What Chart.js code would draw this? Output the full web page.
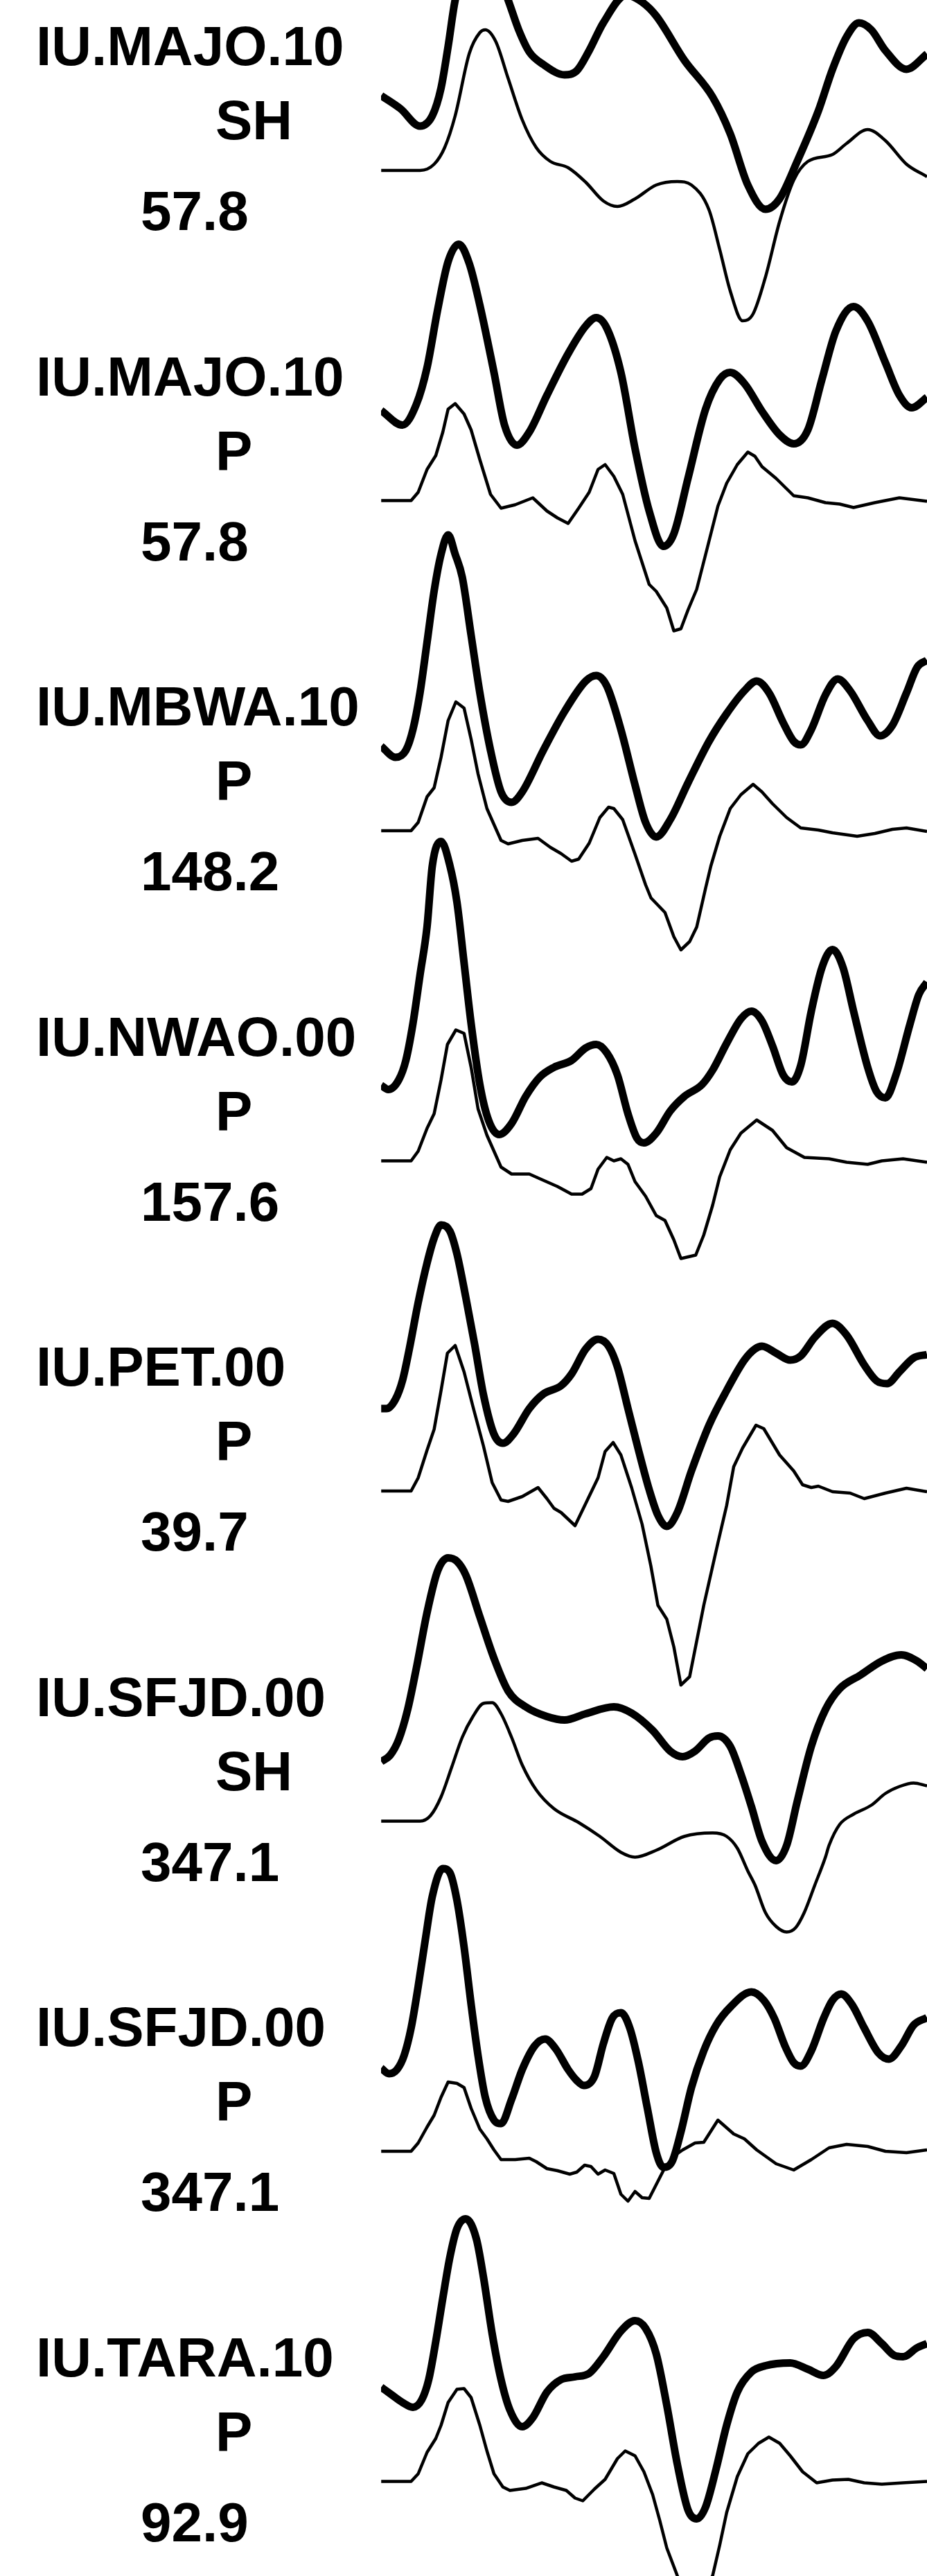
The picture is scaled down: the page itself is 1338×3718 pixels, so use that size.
<!DOCTYPE html>
<html>
<head>
<meta charset="utf-8">
<script src="https://cdn.jsdelivr.net/npm/chart.js@4.4.1/dist/chart.umd.min.js"></script>
<style>
  html, body { margin: 0; padding: 0; background: #fff; }
  #page { position: relative; width: 1338px; height: 3718px; overflow: hidden; background: #fff; }
  #traces { position: absolute; left: 0; top: 0; }
  .lbl { position: absolute; font: bold 80px "Liberation Sans", Arial, sans-serif; line-height: 80px; white-space: nowrap; color: #000; }
</style>
</head>
<body>
<div id="page"><canvas id="traces" width="1338" height="3718"></canvas></div>
<script>
// station / phase / epicentral distance (deg) for each row
const stations = ['IU.MAJO.10', 'IU.MAJO.10', 'IU.MBWA.10', 'IU.NWAO.00', 'IU.PET.00', 'IU.SFJD.00', 'IU.SFJD.00', 'IU.TARA.10'];
const phases = ['SH', 'P', 'P', 'P', 'P', 'SH', 'P', 'P'];
const distances = ['57.8', '57.8', '148.2', '157.6', '39.7', '347.1', '347.1', '92.9'];

// [time (s), amplitude] -- thick = observed, thin = synthetic
const majoShObs = [[0.01,-0.12],[1.41,-0.31],[2.81,-0.56],[3.7,-0.41],[4.33,-0.01],[4.84,0.59],[5.35,1.26],[7.1,2.3],[9.17,1.26],[9.93,0.83],[10.7,0.51],[11.71,0.33],[13.24,0.18],[14.13,0.24],[15.02,0.53],[16.04,0.93],[17.69,1.33],[18.84,1.23],[19.86,1.03],[21.89,0.39],[23.93,-0.14],[25.2,-0.67],[26.47,-1.41],[27.74,-1.76],[28.76,-1.61],[30.03,-1.07],[31.56,-0.34],[32.58,0.26],[33.6,0.73],[34.49,0.93],[35.38,0.83],[36.4,0.53],[37.92,0.26],[39.4,0.48]];
const majoShSyn = [[0.01,0],[2.81,0],[3.83,0.09],[4.59,0.33],[5.35,0.79],[6.37,1.69],[7.13,1.99],[7.52,2.03],[8.28,1.86],[9.17,1.33],[10.19,0.73],[11.2,0.33],[12.22,0.13],[13.5,0.04],[14.77,-0.17],[16.04,-0.44],[17.06,-0.52],[18.33,-0.41],[19.86,-0.21],[21.38,-0.16],[22.4,-0.21],[23.67,-0.57],[24.44,-1.14],[25.2,-1.74],[26.09,-2.17],[26.85,-2.07],[27.74,-1.54],[28.76,-0.74],[29.78,-0.14],[30.8,0.13],[32.58,0.23],[33.6,0.39],[35.12,0.59],[36.4,0.43],[37.92,0.09],[39.4,-0.09]];

const majoPObs = [[0.01,0.1],[1.54,-0.11],[2.55,0.19],[3.32,0.72],[4.08,1.55],[4.84,2.25],[5.61,2.5],[6.37,2.22],[7.13,1.62],[8.15,0.65],[8.91,-0.11],[9.81,-0.4],[10.7,-0.21],[11.97,0.32],[13.5,0.92],[14.77,1.32],[15.53,1.44],[16.29,1.29],[17.31,0.65],[18.33,-0.45],[19.35,-1.35],[20.37,-1.86],[21.13,-1.68],[22.15,-0.88],[23.42,0.12],[24.44,0.55],[25.2,0.65],[26.22,0.49],[27.49,0.09],[28.76,-0.25],[29.78,-0.38],[30.8,-0.18],[31.82,0.55],[32.83,1.25],[34.1,1.6],[35.12,1.39],[36.4,0.79],[37.41,0.32],[38.3,0.14],[39.4,0.29]];
const majoPSyn = [[0.01,0],[2.17,0],[2.68,0.12],[3.32,0.45],[3.95,0.65],[4.46,0.99],[4.84,1.32],[5.35,1.4],[5.99,1.25],[6.5,1.02],[7.13,0.59],[7.9,0.09],[8.66,-0.11],[9.68,-0.06],[10.95,0.04],[11.97,-0.15],[12.73,-0.25],[13.5,-0.33],[14.26,-0.11],[15.02,0.12],[15.66,0.45],[16.17,0.52],[16.8,0.35],[17.44,0.09],[18.33,-0.58],[19.35,-1.21],[19.86,-1.31],[20.62,-1.55],[21.13,-1.88],[21.64,-1.85],[22.15,-1.58],[22.78,-1.28],[23.42,-0.78],[24.31,-0.08],[24.94,0.25],[25.71,0.52],[26.47,0.7],[26.98,0.64],[27.49,0.49],[28.51,0.32],[29.78,0.07],[30.8,0.04],[32.07,-0.03],[33.09,-0.05],[34.1,-0.1],[35.63,-0.03],[37.41,0.04],[39.4,-0.01]];

const mbwaPObs = [[0.01,0.02],[1.03,-0.14],[1.79,-0.04],[2.3,0.26],[2.81,0.79],[3.32,1.52],[3.83,2.26],[4.33,2.79],[4.84,3.07],[5.35,2.79],[5.86,2.46],[6.5,1.62],[7.13,0.79],[7.9,-0.04],[8.66,-0.64],[9.42,-0.79],[10.19,-0.64],[11.71,-0.04],[13.24,0.52],[14.77,0.96],[15.53,1.04],[16.29,0.89],[17.31,0.26],[18.33,-0.54],[19.09,-1.08],[19.86,-1.29],[20.87,-1.04],[22.15,-0.51],[23.67,0.09],[24.94,0.49],[26.22,0.82],[27.11,0.96],[28.0,0.79],[29.02,0.36],[29.78,0.09],[30.29,0.04],[31.05,0.26],[32.07,0.76],[32.96,0.99],[33.85,0.82],[35.12,0.39],[36.01,0.17],[36.9,0.32],[37.92,0.79],[38.69,1.16],[39.4,1.26]];
const mbwaPSyn = [[0.01,0],[2.17,0],[2.68,0.12],[3.32,0.49],[3.83,0.62],[4.33,1.06],[4.84,1.59],[5.4,1.86],[5.99,1.77],[6.5,1.32],[7.0,0.82],[7.64,0.32],[8.66,-0.14],[9.17,-0.19],[10.19,-0.14],[11.33,-0.11],[12.22,-0.24],[12.99,-0.33],[13.75,-0.44],[14.26,-0.41],[15.02,-0.18],[15.79,0.19],[16.42,0.34],[16.8,0.32],[17.44,0.16],[18.33,-0.34],[19.09,-0.78],[19.48,-0.97],[20.49,-1.18],[21.13,-1.53],[21.64,-1.72],[22.27,-1.6],[22.78,-1.39],[23.42,-0.83],[23.8,-0.51],[24.44,-0.08],[25.2,0.32],[25.97,0.52],[26.85,0.67],[27.49,0.56],[28.25,0.39],[29.27,0.19],[30.29,0.04],[31.56,0.01],[32.58,-0.03],[34.36,-0.08],[35.63,-0.04],[36.9,0.02],[37.92,0.04],[39.4,-0.01]];

const nwaoPObs = [[0.01,-0.11],[0.52,-0.17],[1.28,-0.03],[1.79,0.25],[2.3,0.78],[2.81,1.48],[3.32,2.18],[3.7,3.06],[4.33,3.41],[4.97,3.06],[5.48,2.53],[5.99,1.66],[6.5,0.78],[7.13,-0.1],[7.77,-0.62],[8.53,-0.82],[9.42,-0.66],[10.44,-0.27],[11.46,0.01],[12.48,0.15],[13.75,0.25],[14.77,0.43],[15.53,0.48],[16.29,0.36],[17.06,0.04],[17.82,-0.52],[18.46,-0.87],[18.97,-0.94],[19.86,-0.8],[20.87,-0.48],[21.89,-0.27],[23.16,-0.1],[23.93,0.11],[24.95,0.5],[25.97,0.85],[26.73,0.96],[27.49,0.82],[28.25,0.46],[29.02,0.04],[29.65,-0.06],[30.29,0.18],[31.05,0.96],[31.82,1.59],[32.58,1.85],[33.34,1.59],[34.1,0.96],[35.12,0.15],[35.76,-0.2],[36.4,-0.29],[37.16,0.04],[38.18,0.78],[38.81,1.2],[39.4,1.38]];
const nwaoPSyn = [[0.01,0],[2.17,0],[2.68,0.14],[3.32,0.47],[3.83,0.68],[4.33,1.17],[4.79,1.68],[5.4,1.89],[5.99,1.84],[6.5,1.35],[7.0,0.75],[7.64,0.37],[8.66,-0.09],[9.42,-0.19],[10.7,-0.19],[11.71,-0.28],[12.73,-0.37],[13.75,-0.48],[14.51,-0.48],[15.15,-0.4],[15.66,-0.12],[16.29,0.05],[16.8,0],[17.31,0.03],[17.82,-0.05],[18.33,-0.3],[19.09,-0.51],[19.86,-0.79],[20.49,-0.86],[21.13,-1.14],[21.64,-1.41],[22.71,-1.36],[23.29,-1.07],[23.93,-0.64],[24.44,-0.23],[25.2,0.16],[25.97,0.4],[27.11,0.59],[28.25,0.44],[29.27,0.19],[30.55,0.05],[32.33,0.03],[33.6,-0.02],[35.12,-0.05],[36.14,0],[37.67,0.03],[39.4,-0.02]];

const petPObs = [[0.01,-0.01],[0.39,-0.01],[1.03,0.12],[1.54,0.39],[2.04,0.85],[2.68,1.52],[3.32,2.09],[3.83,2.45],[4.33,2.64],[4.97,2.55],[5.48,2.22],[6.12,1.59],[6.75,0.92],[7.39,0.19],[8.15,-0.38],[8.79,-0.51],[9.55,-0.38],[10.7,-0.01],[11.71,0.2],[12.99,0.32],[13.75,0.49],[14.77,0.85],[15.66,0.99],[16.42,0.89],[17.06,0.59],[17.82,-0.01],[18.58,-0.61],[19.35,-1.18],[19.98,-1.55],[20.62,-1.71],[21.38,-1.51],[22.4,-0.91],[23.67,-0.25],[24.94,0.25],[26.22,0.69],[26.98,0.85],[27.49,0.89],[28.51,0.79],[29.53,0.69],[30.29,0.75],[31.31,1.02],[32.58,1.22],[33.6,1.05],[34.87,0.62],[35.76,0.39],[36.52,0.35],[37.41,0.52],[38.43,0.72],[39.4,0.77]];
const petPSyn = [[0.01,0],[2.17,0],[2.68,0.19],[3.32,0.59],[3.83,0.89],[4.33,1.45],[4.79,1.99],[5.35,2.1],[5.99,1.72],[6.63,1.22],[7.39,0.65],[8.02,0.12],[8.66,-0.13],[9.17,-0.15],[10.19,-0.08],[11.33,0.05],[11.97,-0.11],[12.48,-0.25],[12.99,-0.31],[14.0,-0.5],[14.77,-0.18],[15.66,0.19],[16.17,0.57],[16.75,0.7],[17.31,0.52],[18.08,0.05],[18.84,-0.48],[19.47,-1.08],[19.98,-1.65],[20.62,-1.85],[21.13,-2.25],[21.64,-2.8],[22.27,-2.68],[23.29,-1.65],[24.31,-0.75],[24.94,-0.21],[25.45,0.35],[26.09,0.62],[27.06,0.95],[27.62,0.9],[28.25,0.69],[28.76,0.52],[29.78,0.29],[30.42,0.09],[31.05,0.05],[31.56,0.07],[32.58,-0.01],[33.85,-0.03],[34.87,-0.11],[36.4,-0.03],[37.92,0.04],[39.4,-0.01]];

const sfjdShObs = [[0.01,-0.34],[0.65,-0.25],[1.28,-0.02],[1.92,0.41],[2.55,1.01],[3.32,1.81],[4.08,2.41],[4.84,2.6],[5.48,2.55],[6.12,2.35],[7.13,1.75],[8.15,1.15],[9.17,0.68],[10.44,0.45],[11.97,0.31],[13.24,0.26],[14.77,0.35],[16.8,0.45],[18.08,0.36],[19.6,0.11],[20.87,-0.19],[21.76,-0.27],[22.66,-0.19],[23.67,0],[24.31,0.03],[25.2,-0.12],[25.97,-0.52],[26.73,-0.99],[27.49,-1.49],[28.51,-1.77],[29.27,-1.55],[30.03,-0.92],[31.05,-0.12],[32.07,0.41],[33.09,0.71],[34.61,0.91],[36.14,1.11],[37.54,1.2],[38.69,1.11],[39.4,1.0]];
const sfjdShSyn = [[0.01,0],[2.81,0],[3.57,0.08],[4.33,0.35],[5.1,0.78],[5.86,1.21],[6.63,1.51],[7.39,1.7],[8.02,1.71],[8.66,1.55],[9.42,1.21],[10.19,0.81],[11.2,0.45],[12.48,0.18],[14.26,-0.02],[15.79,-0.22],[17.31,-0.45],[18.33,-0.52],[19.86,-0.42],[21.89,-0.22],[23.93,-0.17],[24.94,-0.22],[25.71,-0.39],[26.47,-0.72],[26.98,-0.92],[27.74,-1.32],[28.51,-1.52],[29.27,-1.6],[29.91,-1.54],[30.54,-1.32],[31.31,-0.92],[32.07,-0.52],[32.33,-0.35],[33.09,-0.05],[34.1,0.1],[35.38,0.23],[36.4,0.4],[37.41,0.5],[38.43,0.55],[39.4,0.51]];

const sfjdPObs = [[0.01,0],[0.57,-0.08],[1.15,-0.02],[1.66,0.18],[2.17,0.58],[2.68,1.18],[3.19,1.85],[3.7,2.48],[4.46,2.88],[4.97,2.82],[5.48,2.42],[5.99,1.75],[6.5,0.92],[7.0,0.18],[7.52,-0.42],[8.15,-0.75],[8.66,-0.8],[9.42,-0.45],[10.19,-0.02],[11.08,0.32],[11.84,0.42],[12.6,0.28],[13.5,-0.02],[14.13,-0.18],[14.64,-0.25],[15.4,-0.12],[16.04,0.35],[16.68,0.72],[17.31,0.8],[17.95,0.58],[18.58,0.08],[19.22,-0.58],[19.86,-1.22],[20.37,-1.43],[21.0,-1.35],[21.64,-0.92],[22.4,-0.28],[23.29,0.25],[24.18,0.62],[25.2,0.88],[26.73,1.1],[27.62,0.98],[28.38,0.72],[29.15,0.32],[29.78,0.08],[30.29,0.03],[31.05,0.25],[31.94,0.72],[32.58,0.98],[33.21,1.07],[33.98,0.92],[34.87,0.58],[35.89,0.22],[36.65,0.13],[37.54,0.32],[38.43,0.62],[39.4,0.73]];
const sfjdPSyn = [[0.01,0],[2.17,0],[2.68,0.12],[3.32,0.35],[3.83,0.52],[4.33,0.78],[4.84,1.0],[5.48,0.98],[5.99,0.92],[6.5,0.62],[7.13,0.32],[7.64,0.18],[8.15,0.02],[8.66,-0.12],[9.68,-0.12],[10.7,-0.1],[11.2,-0.15],[11.97,-0.25],[12.73,-0.28],[13.62,-0.33],[14.13,-0.3],[14.69,-0.2],[15.15,-0.22],[15.66,-0.33],[16.17,-0.27],[16.8,-0.32],[17.31,-0.62],[17.82,-0.72],[18.33,-0.58],[18.84,-0.67],[19.35,-0.68],[19.86,-0.48],[20.37,-0.28],[21.13,-0.07],[21.77,0.02],[22.66,0.12],[23.29,0.13],[24.31,0.45],[25.45,0.25],[26.22,0.18],[27.11,0.02],[28.51,-0.18],[29.78,-0.27],[31.05,-0.12],[32.33,0.05],[33.6,0.1],[35.12,0.07],[36.4,0],[37.92,-0.02],[39.4,0.02]];

const taraPObs = [[0.01,0.16],[0.77,0.05],[1.54,-0.06],[2.3,-0.13],[2.94,-0.02],[3.44,0.27],[3.95,0.82],[4.46,1.45],[4.97,2.04],[5.48,2.45],[6.12,2.59],[6.88,2.3],[7.39,1.75],[8.02,0.93],[8.66,0.27],[9.3,-0.17],[10.19,-0.41],[10.95,-0.28],[11.97,0.09],[12.99,0.27],[14.0,0.31],[15.02,0.36],[16.04,0.6],[17.31,0.97],[18.33,1.12],[19.09,1.01],[19.86,0.64],[20.62,-0.1],[21.38,-0.95],[22.15,-1.61],[22.78,-1.74],[23.42,-1.57],[24.18,-1.02],[24.94,-0.39],[25.71,0.09],[26.73,0.38],[27.74,0.47],[29.53,0.51],[30.8,0.42],[31.94,0.33],[32.83,0.46],[34.1,0.86],[35.12,0.95],[36.14,0.79],[37.03,0.62],[37.67,0.6],[38.69,0.73],[39.4,0.79]];
const taraPSyn = [[0.01,0],[2.17,0],[2.68,0.11],[3.32,0.42],[3.95,0.62],[4.33,0.81],[4.84,1.14],[5.48,1.33],[5.99,1.34],[6.5,1.21],[7.13,0.81],[7.64,0.44],[8.15,0.11],[8.79,-0.08],[9.3,-0.13],[10.44,-0.1],[11.59,-0.02],[12.48,-0.08],[13.37,-0.13],[14.0,-0.24],[14.56,-0.28],[15.4,-0.11],[16.17,0.03],[17.06,0.33],[17.62,0.44],[18.33,0.37],[18.97,0.14],[19.6,-0.19],[20.11,-0.56],[20.62,-0.96],[21.38,-1.36],[22.4,-1.85],[23.93,-1.36],[24.44,-0.92],[24.94,-0.45],[25.71,0.07],[26.47,0.4],[27.24,0.55],[27.99,0.64],[28.77,0.55],[29.53,0.37],[30.42,0.14],[31.44,-0.02],[32.58,0.02],[33.72,0.03],[34.87,-0.02],[36.14,-0.04],[37.67,-0.02],[39.4,0]];

const observed = [majoShObs, majoPObs, mbwaPObs, nwaoPObs, petPObs, sfjdShObs, sfjdPObs, taraPObs];
const synthetic = [majoShSyn, majoPSyn, mbwaPSyn, nwaoPSyn, petPSyn, sfjdShSyn, sfjdPSyn, taraPSyn];

// layout: rows are stacked downwards, observed trace drawn above its synthetic
const ROW_STEP = 4.765;
const OBS_SHIFT = 1.2;
const ROW_PX = 476.5;

const datasets = [];
observed.forEach(function (obs, i) {
  const base = -i * ROW_STEP;
  datasets.push({
    data: obs.map(p => ({ x: p[0], y: p[1] + base + OBS_SHIFT })),
    borderColor: '#000',
    borderWidth: 11,
    cubicInterpolationMode: 'monotone',
    borderJoinStyle: 'round',
    borderCapStyle: 'butt',
    pointRadius: 0,
    fill: false
  });
  const syn = {
    data: synthetic[i].map(p => ({ x: p[0], y: p[1] + base })),
    borderColor: '#000',
    borderWidth: 4.5,
    borderJoinStyle: 'round',
    pointRadius: 0,
    fill: false,
    tension: 0
  };
  if (phases[i] === 'SH') syn.cubicInterpolationMode = 'monotone';
  datasets.push(syn);
});

new Chart(document.getElementById('traces').getContext('2d'), {
  type: 'line',
  data: { datasets: datasets },
  options: {
    responsive: false,
    animation: false,
    devicePixelRatio: 1,
    layout: { padding: { left: 550, right: 0, top: 0, bottom: 0 } },
    scales: {
      x: { type: 'linear', min: 0, max: 39.4, display: false },
      y: { type: 'linear', min: -34.72, max: 2.46, display: false }
    },
    plugins: { legend: { display: false }, tooltip: { enabled: false } }
  }
});

// row labels
const page = document.getElementById('page');
function addLabel(text, left, baseline) {
  const d = document.createElement('div');
  d.className = 'lbl';
  d.textContent = text;
  d.style.left = left + 'px';
  d.style.top = (baseline - 68) + 'px';
  page.appendChild(d);
}
stations.forEach(function (st, i) {
  const off = i * ROW_PX;
  addLabel(st, 52, 95 + off);
  addLabel(phases[i], 311, 202 + off);
  addLabel(distances[i], 203, 333 + off);
});
</script>
</body>
</html>
